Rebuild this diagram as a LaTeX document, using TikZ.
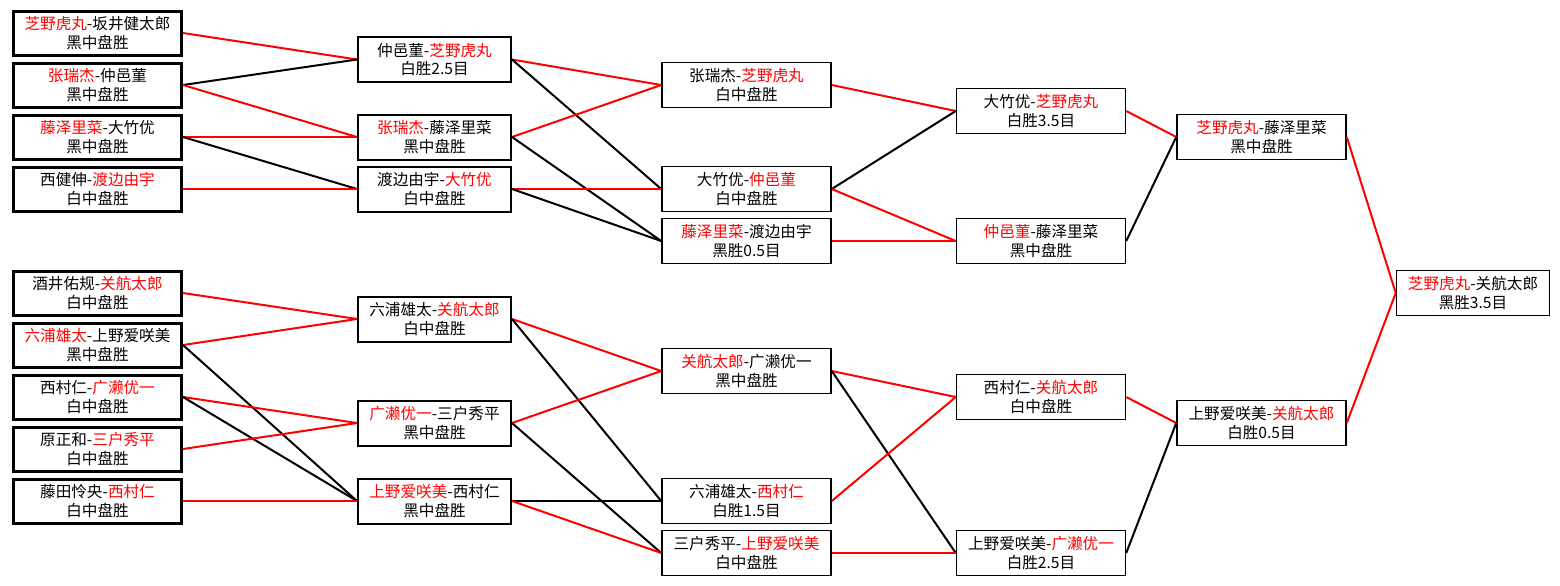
\documentclass[tikz,border=0pt]{standalone}
\usepackage{fontspec}
\setmainfont{Noto Sans CJK SC}
\usepackage{xcolor}
\newcommand{\winner}[1]{\textcolor{red}{#1}}
\tikzstyle{game}=[
        draw = black,
        rectangle,
        fill = white,
        inner sep = 0pt,
        line width = 0.75pt,
        minimum width = 84.5pt,
        minimum height = 22.5pt,
        align = center,
        font = \fontsize{7.8}{9.3}\selectfont
    ]

\begin{document}
\begin{tikzpicture}[x=0.5pt, y=-0.5pt, line width=1pt,
        first/.style = {game, line width=1.5pt, minimum width=84pt, minimum height=22pt},
        second/.style = {game, line width=1pt, minimum width=76.5pt},
        last/.style = {game, minimum width=76.5pt},
        redline/.style = {draw=red},
        blackline/.style = {draw=black}]
        \useasboundingbox (0,0) rectangle (1560,585);

        % first round
        \node[first] (A1) at (97.5,33) {\winner{芝野虎丸}-坂井健太郎\\黑中盘胜};
        \node[first] (A2) at (97.5,85) {\winner{张瑞杰}-仲邑菫\\黑中盘胜};
        \node[first] (A3) at (97.5,137) {\winner{藤泽里菜}-大竹优\\黑中盘胜};
        \node[first] (A4) at (97.5,189) {西健伸-\winner{渡边由宇}\\白中盘胜};
        \node[first] (A5) at (97.5,293) {酒井佑规-\winner{关航太郎}\\白中盘胜};
        \node[first] (A6) at (97.5,345) {\winner{六浦雄太}-上野爱咲美\\黑中盘胜};
        \node[first] (A7) at (97.5,397) {西村仁-\winner{广濑优一}\\白中盘胜};
        \node[first] (A8) at (97.5,449) {原正和-\winner{三户秀平}\\白中盘胜};
        \node[first] (A9) at (97.5,501) {藤田怜央-\winner{西村仁}\\白中盘胜};

        % second round
        \node[second] (B1) at (434.5,59.5) {仲邑菫-\winner{芝野虎丸}\\白胜2.5目};
        \node[second] (B2) at (434.5,137) {\winner{张瑞杰}-藤泽里菜\\黑中盘胜};
        \node[second] (B3) at (434.5,189) {渡边由宇-\winner{大竹优}\\白中盘胜};
        \node[second] (B4) at (434.5,319) {六浦雄太-\winner{关航太郎}\\白中盘胜};
        \node[second] (B5) at (434.5,423) {\winner{广濑优一}-三户秀平\\黑中盘胜};
        \node[second] (B6) at (434.5,501) {\winner{上野爱咲美}-西村仁\\黑中盘胜};

        % third round
        \node[game] (C1) at (746.5,85) {张瑞杰-\winner{芝野虎丸}\\白中盘胜};
        \node[game] (C2) at (746.5,189) {大竹优-\winner{仲邑菫}\\白中盘胜};
        \node[game] (C3) at (746.5,241) {\winner{藤泽里菜}-渡边由宇\\黑胜0.5目};
        \node[game] (C4) at (746.5,371) {\winner{关航太郎}-广濑优一\\黑中盘胜};
        \node[game] (C5) at (746.5,501) {六浦雄太-\winner{西村仁}\\白胜1.5目};
        \node[game] (C6) at (746.5,553) {三户秀平-\winner{上野爱咲美}\\白中盘胜};

        % fourth round
        \node[game] (D1) at (1041,111) {大竹优-\winner{芝野虎丸}\\白胜3.5目};
        \node[game] (D2) at (1041,241) {\winner{仲邑菫}-藤泽里菜\\黑中盘胜};
        \node[game] (D3) at (1041,397) {西村仁-\winner{关航太郎}\\白中盘胜};
        \node[game] (D4) at (1041,553) {上野爱咲美-\winner{广濑优一}\\白胜2.5目};

        % fifth round and final
        \node[game] (E1) at (1261.5,137) {\winner{芝野虎丸}-藤泽里菜\\黑中盘胜};
        \node[game] (E2) at (1261.5,423) {上野爱咲美-\winner{关航太郎}\\白胜0.5目};
        \node[last] (F) at (1473,293) {\winner{芝野虎丸}-关航太郎\\黑胜3.5目};

        \draw[redline] (A1.east) -- (B1.west);
        \draw[blackline] (A2.east) -- (B1.west);
        \draw[redline] (A2.east) -- (B2.west);
        \draw[redline] (A3.east) -- (B2.west);
        \draw[blackline] (A3.east) -- (B3.west);
        \draw[redline] (A4.east) -- (B3.west);
        \draw[redline] (A5.east) -- (B4.west);
        \draw[redline] (A6.east) -- (B4.west);
        \draw[blackline] (A6.east) -- (B6.west);
        \draw[redline] (A7.east) -- (B5.west);
        \draw[blackline] (A7.east) -- (B6.west);
        \draw[redline] (A8.east) -- (B5.west);
        \draw[redline] (A9.east) -- (B6.west);

        \draw[redline] (B1.east) -- (C1.west);
        \draw[blackline] (B1.east) -- (C2.west);
        \draw[redline] (B2.east) -- (C1.west);
        \draw[blackline] (B2.east) -- (C3.west);
        \draw[redline] (B3.east) -- (C2.west);
        \draw[blackline] (B3.east) -- (C3.west);
        \draw[redline] (B4.east) -- (C4.west);
        \draw[blackline] (B4.east) -- (C5.west);
        \draw[redline] (B5.east) -- (C4.west);
        \draw[blackline] (B5.east) -- (C6.west);
        \draw[blackline] (B6.east) -- (C5.west);
        \draw[redline] (B6.east) -- (C6.west);

        \draw[redline] (C1.east) -- (D1.west);
        \draw[blackline] (C2.east) -- (D1.west);
        \draw[redline] (C2.east) -- (D2.west);
        \draw[redline] (C3.east) -- (D2.west);
        \draw[redline] (C4.east) -- (D3.west);
        \draw[blackline] (C4.east) -- (D4.west);
        \draw[redline] (C5.east) -- (D3.west);
        \draw[redline] (C6.east) -- (D4.west);

        \draw[redline] (D1.east) -- (E1.west);
        \draw[blackline] (D2.east) -- (E1.west);
        \draw[redline] (D3.east) -- (E2.west);
        \draw[blackline] (D4.east) -- (E2.west);

        \draw[redline] (E1.east) -- (F.west);
        \draw[redline] (E2.east) -- (F.west);
    \end{tikzpicture}
\end{document}
